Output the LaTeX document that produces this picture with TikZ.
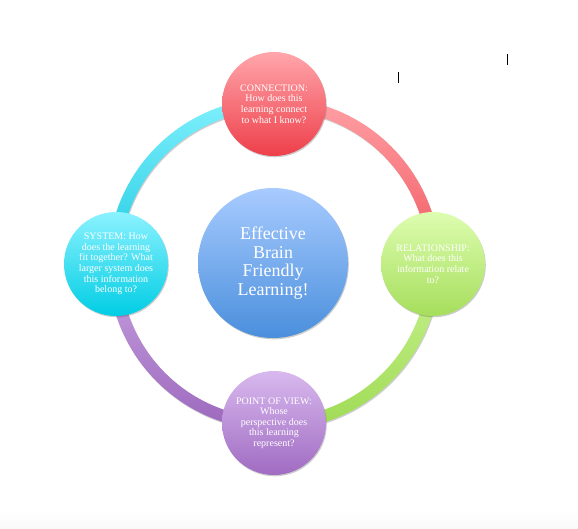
\documentclass[tikz,border=0pt]{standalone}
\usepackage{fontspec}
\setmainfont{Liberation Serif}
\usetikzlibrary{shadows}
\definecolor{redT}{HTML}{FFA6AB}\definecolor{redB}{HTML}{EE3F4A}
\definecolor{redRT}{HTML}{FFA0A5}\definecolor{redRB}{HTML}{F0585F}
\definecolor{grnT}{HTML}{DDFDB0}\definecolor{grnB}{HTML}{A6DE5C}
\definecolor{grnRT}{HTML}{C8F290}\definecolor{grnRB}{HTML}{9FDB55}
\definecolor{purT}{HTML}{D8B9EE}\definecolor{purB}{HTML}{A06BC2}
\definecolor{purRT}{HTML}{C8A2E1}\definecolor{purRB}{HTML}{9C68BD}
\definecolor{cyaT}{HTML}{8CF2FF}\definecolor{cyaB}{HTML}{00CDE4}
\definecolor{cyaRT}{HTML}{80F0FD}\definecolor{cyaRB}{HTML}{1FCAE2}
\definecolor{bluT}{HTML}{A8CBFF}\definecolor{bluB}{HTML}{4A8FDC}
\begin{document}
\begin{tikzpicture}[x=1pt,y=1pt,
  softshadow/.style={drop shadow={shadow xshift=0.8pt, shadow yshift=-1.3pt, opacity=0.28, fill=black!70}},
  bubble/.style={circle, minimum size=104pt, inner sep=0pt, text=white, align=center,
    font=\fontsize{10}{10.6}\selectfont, softshadow},
  hub/.style={circle, minimum size=150pt, inner sep=0pt, text=white, align=center,
    font=\fontsize{18}{18.5}\selectfont, softshadow, top color=bluT, bottom color=bluB},
  cursor/.style={line width=1pt, black}]
\useasboundingbox (0,0) rectangle (578,528);
\fill[white] (0,0) rectangle (578,528);
\shade[top color=white, bottom color=black!2] (0,0) rectangle (578,18);
\coordinate (ring) at (274,264);
% ring segments
\shade[top color=redRT, bottom color=redRB, softshadow]
  ([shift={(90:166)}]ring) arc[start angle=90,end angle=0,radius=166]
  -- ([shift={(0:154)}]ring) arc[start angle=0,end angle=90,radius=154] -- cycle;
\shade[top color=grnRT, bottom color=grnRB, softshadow]
  ([shift={(0:166)}]ring) arc[start angle=0,end angle=-90,radius=166]
  -- ([shift={(-90:154)}]ring) arc[start angle=-90,end angle=0,radius=154] -- cycle;
\shade[top color=purRT, bottom color=purRB, softshadow]
  ([shift={(-90:166)}]ring) arc[start angle=-90,end angle=-180,radius=166]
  -- ([shift={(180:154)}]ring) arc[start angle=180,end angle=270,radius=154] -- cycle;
\shade[top color=cyaRT, bottom color=cyaRB, softshadow]
  ([shift={(180:166)}]ring) arc[start angle=180,end angle=90,radius=166]
  -- ([shift={(90:154)}]ring) arc[start angle=90,end angle=180,radius=154] -- cycle;
% circles
\node[hub] (center) at (273,265) {Effective\\Brain\\Friendly\\Learning!};
\node[bubble, top color=redT, bottom color=redB] (conn) at (274,424)
  {CONNECTION:\\How does this\\learning connect\\to what I know?};
\node[bubble, top color=grnT, bottom color=grnB] (rel) at (433,264)
  {RELATIONSHIP:\\What does this\\information relate\\to?};
\node[bubble, top color=purT, bottom color=purB] (pov) at (274,105)
  {POINT OF VIEW:\\Whose\\perspective does\\this learning\\represent?};
\node[bubble, top color=cyaT, bottom color=cyaB] (sys) at (116,264)
  {SYSTEM: How\\does the learning\\fit together? What\\larger system does\\this information\\belong to?};
% text cursors
\draw[cursor] (398,456) -- (398,445);
\draw[cursor] (507,474) -- (507,463);
\end{tikzpicture}
\end{document}
